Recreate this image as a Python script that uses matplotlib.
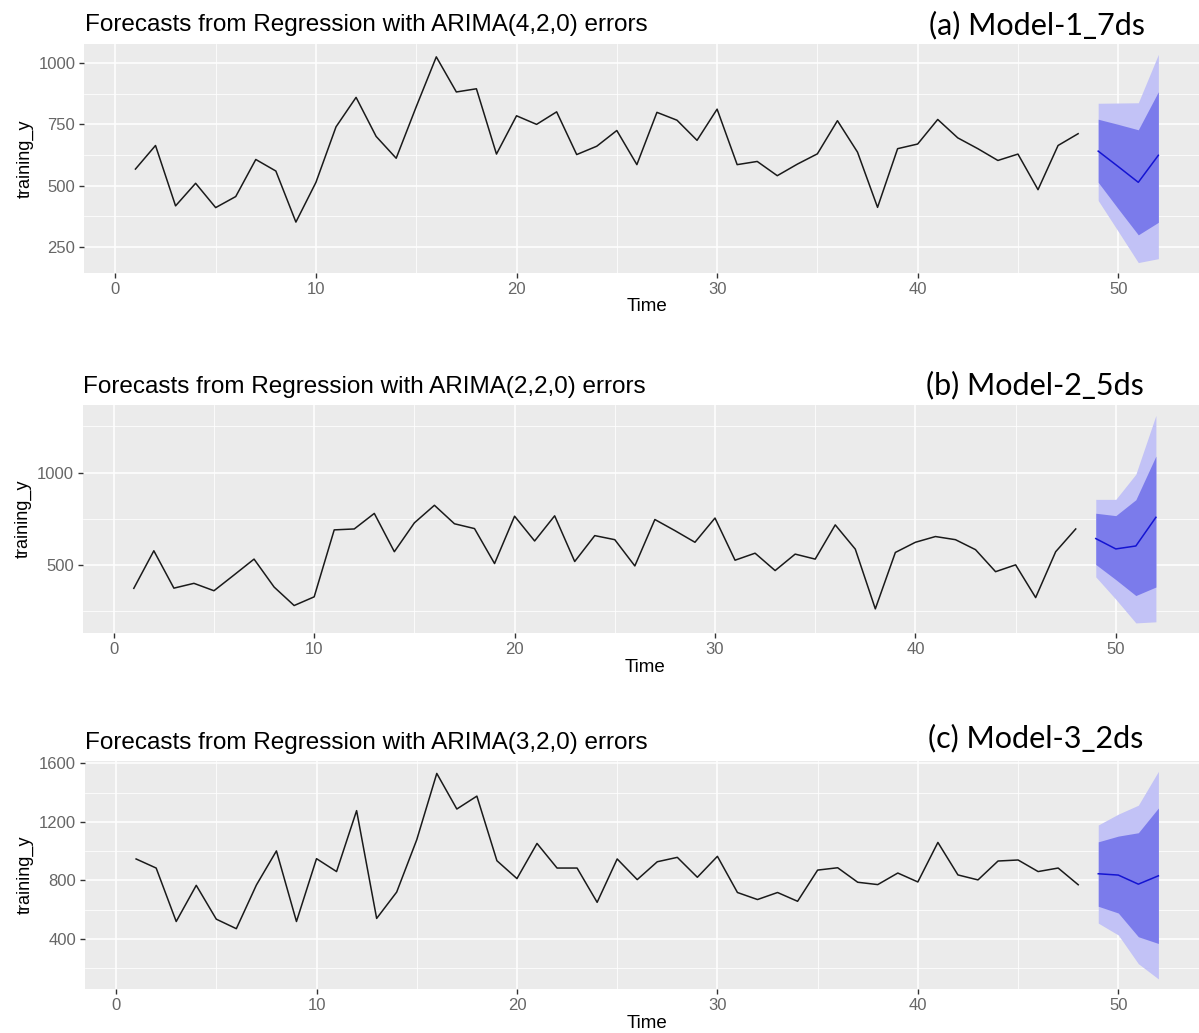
"""
Regression-with-ARIMA-errors forecasts for three models, stacked vertically
in the ggplot style used by forecast::autoplot.
"""

import matplotlib
matplotlib.use("Agg")
import matplotlib.pyplot as plt
from matplotlib.ticker import MultipleLocator

W, H = 1199, 1033

TIME = list(range(1, 49))
FC_TIME = [49, 50, 51, 52]

# Model 1 (ARIMA(4,2,0) errors)
m1_y = [568, 664, 418, 510, 411, 456, 607, 560, 352, 514,
        740, 860, 701, 612, 822, 1025, 882, 895, 629, 785,
        750, 801, 627, 661, 725, 586, 799, 767, 685, 812,
        586, 599, 541, 588, 630, 765, 637, 412, 651, 670,
        770, 695, 651, 603, 629, 484, 664, 712]
m1_mean = [641, 578, 514, 624]
m1_lo80 = [514, 406, 300, 351]
m1_hi80 = [771, 750, 728, 883]
m1_lo95 = [440, 314, 187, 203]
m1_hi95 = [836, 837, 838, 1035]

# Model 2 (ARIMA(2,2,0) errors)
m2_y = [375, 578, 376, 402, 362, 447, 533, 382, 282, 329,
        691, 696, 780, 573, 729, 824, 724, 698, 509, 765,
        631, 767, 520, 660, 638, 496, 747, 687, 624, 755,
        527, 565, 471, 560, 533, 718, 587, 264, 569, 624,
        655, 638, 584, 465, 502, 325, 573, 696]
m2_mean = [644, 588, 604, 759]
m2_lo80 = [504, 422, 336, 382]
m2_hi80 = [781, 768, 854, 1090]
m2_lo95 = [437, 316, 188, 194]
m2_hi95 = [856, 856, 992, 1310]

# Model 3 (ARIMA(3,2,0) errors)
m3_y = [947, 885, 520, 767, 536, 471, 769, 1002, 520, 949,
        861, 1277, 541, 721, 1078, 1531, 1288, 1376, 935, 813,
        1053, 885, 885, 651, 947, 806, 928, 958, 822, 965,
        718, 670, 718, 658, 871, 887, 788, 772, 851, 790,
        1060, 838, 804, 933, 940, 861, 885, 771]
m3_mean = [846, 837, 775, 832]
m3_lo80 = [624, 578, 416, 370]
m3_hi80 = [1064, 1103, 1126, 1295]
m3_lo95 = [509, 428, 232, 128]
m3_hi95 = [1179, 1253, 1314, 1545]

TITLES = ["Forecasts from Regression with ARIMA(4,2,0) errors",
          "Forecasts from Regression with ARIMA(2,2,0) errors",
          "Forecasts from Regression with ARIMA(3,2,0) errors"]
TAGS = ["(a) Model-1_7ds", "(b) Model-2_5ds", "(c) Model-3_2ds"]

PANEL_BG = "#EBEBEB"
DARK_BAND = "#7B7BEB"
LIGHT_BAND = "#C2C2F6"
TICK_GREY = "#666666"


def px_box(left, top, right, bottom):
    return [left / W, 1 - bottom / H, (right - left) / W, (bottom - top) / H]


def draw_panel(ax, y, mean, lo80, hi80, lo95, hi95, ystep):
    ax.set_facecolor(PANEL_BG)
    for s in ax.spines.values():
        s.set_visible(False)

    ax.fill_between(FC_TIME, lo95, hi95, color=LIGHT_BAND, lw=0, zorder=2)
    ax.fill_between(FC_TIME, lo80, hi80, color=DARK_BAND, lw=0, zorder=3)
    ax.plot(TIME, y, color="#1A1A1A", lw=1.1, zorder=4)
    ax.plot(FC_TIME, mean, color="#1414D2", lw=1.1, zorder=5)

    # ggplot-like 5% expansion on both axes
    x0, x1 = min(TIME), max(FC_TIME)
    xpad = 0.05 * (x1 - x0)
    ax.set_xlim(x0 - xpad, x1 + xpad)
    y0, y1 = min(lo95 + y), max(hi95 + y)
    ypad = 0.05 * (y1 - y0)
    ax.set_ylim(y0 - ypad, y1 + ypad)

    ax.xaxis.set_major_locator(MultipleLocator(10))
    ax.xaxis.set_minor_locator(MultipleLocator(5))
    ax.yaxis.set_major_locator(MultipleLocator(ystep))
    ax.yaxis.set_minor_locator(MultipleLocator(ystep / 2))
    ax.grid(which="major", color="white", lw=1.1, zorder=0)
    ax.grid(which="minor", color="white", lw=0.55, zorder=0)
    ax.set_axisbelow(True)

    ax.tick_params(which="major", length=3.5, width=1.0, color="#333333",
                   labelcolor=TICK_GREY, labelsize=12, pad=3)
    ax.tick_params(which="minor", length=0)


def main():
    plt.rcParams["font.family"] = ["Liberation Sans", "DejaVu Sans"]
    fig = plt.figure(figsize=(W / 100, H / 100), dpi=100)

    boxes = [(84.3, 44, 1209.5, 273),
             (82.7, 405, 1207, 633.3),
             (85, 761, 1209.5, 989.3)]
    title_pos = [(85, 25), (83, 386.5), (85, 742.5)]
    tag_pos = [(1145, 25), (1144, 385), (1143, 738.5)]
    time_y = [307, 667, 1023]
    ylab_x = [25, 23, 25]
    series = [(m1_y, m1_mean, m1_lo80, m1_hi80, m1_lo95, m1_hi95, 250),
              (m2_y, m2_mean, m2_lo80, m2_hi80, m2_lo95, m2_hi95, 500),
              (m3_y, m3_mean, m3_lo80, m3_hi80, m3_lo95, m3_hi95, 400)]

    for i in range(3):
        left, top, right, bottom = boxes[i]
        ax = fig.add_axes(px_box(left, top, right, bottom))
        draw_panel(ax, *series[i])

        fig.text(title_pos[i][0] / W, 1 - title_pos[i][1] / H, TITLES[i],
                 fontsize=17.5, ha="left", va="center", color="black")
        fig.text(tag_pos[i][0] / W, 1 - tag_pos[i][1] / H, TAGS[i],
                 fontsize=22, ha="right", va="center", color="black",
                 family=["Lato", "DejaVu Sans"])
        fig.text((left + right) / 2 / W, 1 - time_y[i] / H, "Time",
                 fontsize=13.5, ha="center", va="center")
        fig.text(ylab_x[i] / W, 1 - (top + bottom) / 2 / H, "training_y",
                 fontsize=13, ha="center", va="center", rotation=90)

    fig.savefig("out.png", dpi=100)
    plt.close(fig)


if __name__ == "__main__":
    main()
